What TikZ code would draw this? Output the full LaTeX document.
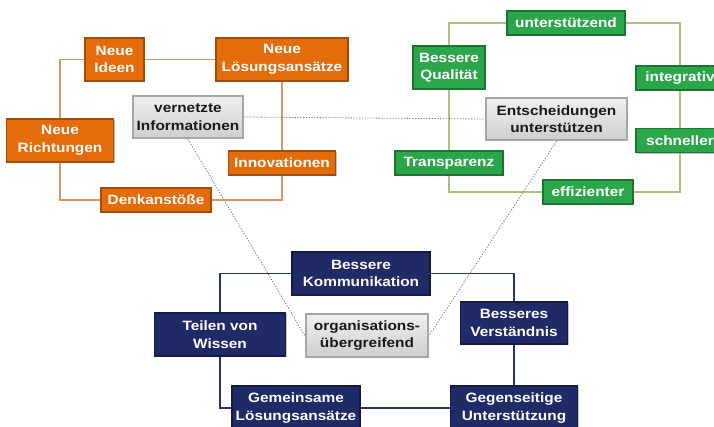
\documentclass[tikz,border=0pt]{standalone}
\usepackage{fontspec}
\usepackage{xcolor}
\usetikzlibrary{positioning,backgrounds,shadows}
\newfontfamily\boxfont[FakeStretch=1.14]{Liberation Sans}
\definecolor{orfill}{HTML}{E46C0A}
\definecolor{ordark}{HTML}{A34D08}
\definecolor{orline}{HTML}{DA975F}
\definecolor{grfill}{HTML}{2CA64A}
\definecolor{grdark}{HTML}{1B7531}
\definecolor{grline}{HTML}{A9C47A}
\definecolor{blfill}{HTML}{1F2A66}
\definecolor{bldark}{HTML}{121A45}
\definecolor{blline}{HTML}{2B3468}

\begin{document}
\begin{tikzpicture}[x=1pt,y=-1pt,
    box/.style={rectangle, align=center, inner sep=1pt, text=white,
        font=\boxfont\bfseries\fontsize{13.5}{17.5}\selectfont,
        drop shadow={shadow xshift=1pt, shadow yshift=-1pt, fill=black!45}},
    obox/.style={box, fill=orfill, draw=ordark, line width=1.2pt},
    gbox/.style={box, fill=grfill, draw=grdark, line width=1.2pt},
    bbox/.style={box, fill=blfill, draw=bldark, line width=1.2pt},
    graybox/.style={rectangle, align=center, inner sep=1pt, text=black!90,
        font=\boxfont\bfseries\fontsize{13.5}{17.5}\selectfont,
        top color=gray!12, bottom color=gray!38, draw=gray!70, line width=2.5pt},
    oline/.style={orline, line width=1.8pt},
    gline/.style={grline, line width=1.8pt},
    bline/.style={blline, line width=1.8pt},
    dotline/.style={gray!90!black, line width=0.8pt, dash pattern=on 1.2pt off 1.6pt}]
\useasboundingbox (0,0) rectangle (714,426);

% orange cluster
\node[obox, minimum width=59pt, minimum height=43pt] (ideen) at (114.5,59.5) {Neue\\Ideen};
\node[obox, minimum width=132pt, minimum height=43pt] (loesung) at (282,59.5) {Neue\\Lösungsansätze};
\node[obox, minimum width=107pt, minimum height=43pt] (richtungen) at (60,140.5) {Neue\\Richtungen};
\node[obox, minimum width=107pt, minimum height=24pt] (innov) at (282,163) {Innovationen};
\node[obox, minimum width=110pt, minimum height=24pt] (denk) at (156,200) {Denkanstöße};
\node[graybox, minimum width=110pt, minimum height=42pt] (vernetzt) at (188,117) {vernetzte\\Informationen};

% green cluster
\node[gbox, minimum width=118pt, minimum height=24pt] (unterst) at (566,23) {unterstützend};
\node[gbox, minimum width=72pt, minimum height=43pt] (qualitaet) at (449,67.5) {Bessere\\Qualität};
\node[gbox, minimum width=88pt, minimum height=24pt] (integrativ) at (680,78) {integrativ};
\node[gbox, minimum width=88pt, minimum height=24pt] (schneller) at (680,140.5) {schneller};
\node[gbox, minimum width=108pt, minimum height=24pt] (transp) at (449,163) {Transparenz};
\node[gbox, minimum width=90pt, minimum height=24pt] (effiz) at (588,192) {effizienter};
\node[graybox, minimum width=141pt, minimum height=42pt] (entsch) at (556.5,119) {Entscheidungen\\unterstützen};

% blue cluster
\node[bbox, minimum width=138pt, minimum height=43pt] (komm) at (361,273.5) {Bessere\\Kommunikation};
\node[bbox, minimum width=131pt, minimum height=43pt] (teilen) at (220,334.5) {Teilen von\\Wissen};
\node[bbox, minimum width=107pt, minimum height=42pt] (verst) at (514,323) {Besseres\\Verständnis};
\node[bbox, minimum width=128pt, minimum height=44pt] (gemein) at (296,408) {Gemeinsame\\Lösungsansätze};
\node[bbox, minimum width=127pt, minimum height=44pt] (gegen) at (514,408) {Gegenseitige\\Unterstützung};
\node[graybox, minimum width=122pt, minimum height=43pt] (org) at (367,335.5) {organisations-\\übergreifend};

\begin{scope}[on background layer]
  \draw[oline] (richtungen.center) |- (loesung.center) |- (denk.center) -| (richtungen.center);
  \draw[gline] (transp.center) |- (unterst.center) -| (schneller.center) |- (effiz.center) -| (transp.center);
  \draw[bline] (teilen.center) |- (komm.center) -| (gegen.center) -- (gemein.center) -| (teilen.center);
  % links between the clusters
  \draw[dotline] (vernetzt.east) -- (entsch.west);
  \draw[dotline] (vernetzt.south) -- (org.west);
  \draw[dotline] (entsch.south) -- (org.east);
\end{scope}
\end{tikzpicture}
\end{document}
